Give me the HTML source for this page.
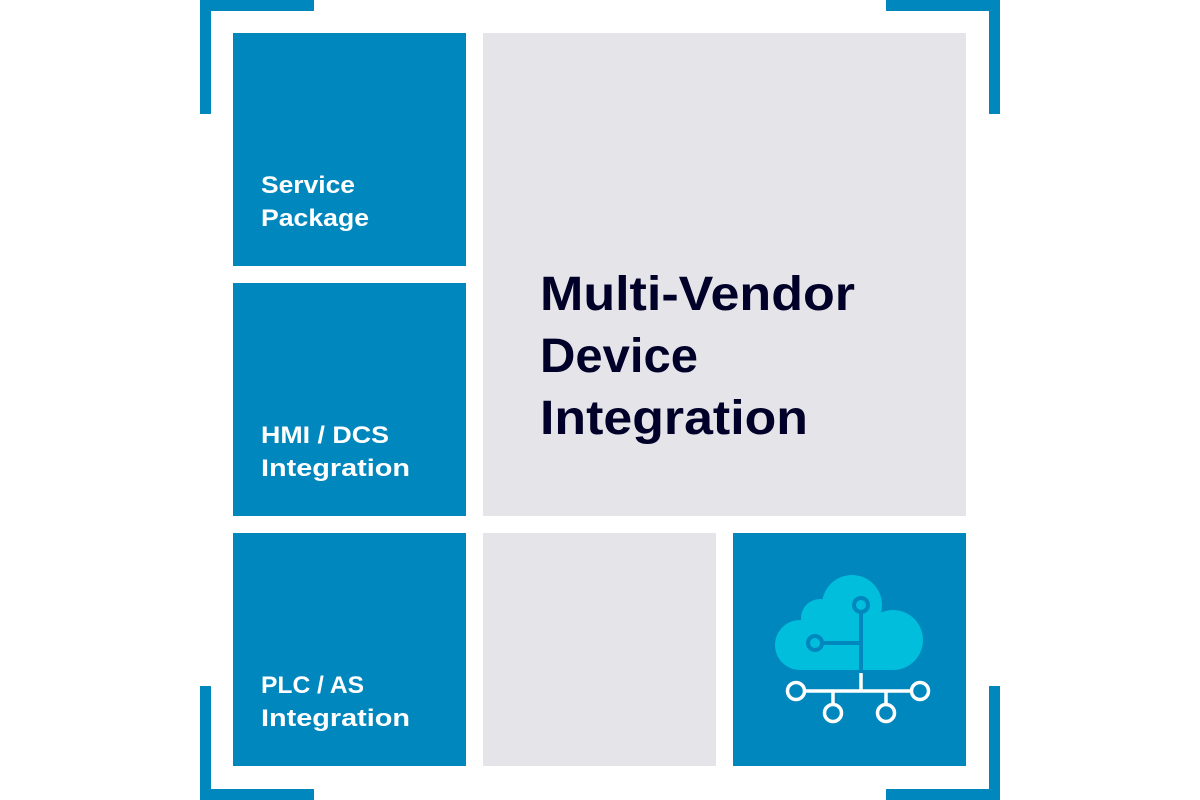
<!DOCTYPE html>
<html><head><meta charset="utf-8"><style>html,body{margin:0;padding:0;background:#fff;}svg{display:block}</style></head>
<body>
<svg width="1200" height="800" viewBox="0 0 1200 800" xmlns="http://www.w3.org/2000/svg" font-family="Liberation Sans, sans-serif">
<rect width="1200" height="800" fill="#fff"/>
<g fill="#0087bd">
<rect x="200" y="0" width="114" height="11"/><rect x="200" y="0" width="11" height="114"/>
<rect x="886" y="0" width="114" height="11"/><rect x="989" y="0" width="11" height="114"/>
<rect x="200" y="789" width="114" height="11"/><rect x="200" y="686" width="11" height="114"/>
<rect x="886" y="789" width="114" height="11"/><rect x="989" y="686" width="11" height="114"/>
<rect x="233" y="33" width="233" height="233"/>
<rect x="233" y="283" width="233" height="233"/>
<rect x="233" y="533" width="233" height="233"/>
<rect x="733" y="533" width="233" height="233"/>
</g>
<g fill="#e5e4e9">
<rect x="483" y="33" width="483" height="483"/>
<rect x="483" y="533" width="233" height="233"/>
</g>
<g fill="#fff" font-size="24" font-weight="bold">
<text x="261" y="193" textLength="94" lengthAdjust="spacingAndGlyphs">Service</text>
<text x="261" y="226" textLength="108" lengthAdjust="spacingAndGlyphs">Package</text>
<text x="261" y="443" textLength="128" lengthAdjust="spacingAndGlyphs">HMI / DCS</text>
<text x="261" y="476" textLength="149" lengthAdjust="spacingAndGlyphs">Integration</text>
<text x="261" y="693" textLength="103" lengthAdjust="spacingAndGlyphs">PLC / AS</text>
<text x="261" y="726" textLength="149" lengthAdjust="spacingAndGlyphs">Integration</text>
</g>
<g fill="#000028" font-size="48" font-weight="bold">
<text x="540" y="310" textLength="315" lengthAdjust="spacingAndGlyphs">Multi-Vendor</text>
<text x="540" y="372" textLength="158" lengthAdjust="spacingAndGlyphs">Device</text>
<text x="540" y="434" textLength="268" lengthAdjust="spacingAndGlyphs">Integration</text>
</g>
<!-- cloud -->
<g fill="#00bedc">
<circle cx="820" cy="618" r="19"/>
<circle cx="852" cy="605" r="30"/>
<circle cx="893" cy="640" r="30"/>
<circle cx="800" cy="645" r="25"/>
<rect x="800" y="625" width="93" height="45"/>
</g>
<g fill="none" stroke="#0087bd" stroke-width="4">
<circle cx="861" cy="605" r="7"/>
<circle cx="815" cy="643" r="7"/>
<line x1="861" y1="612" x2="861" y2="672"/>
<line x1="822" y1="643" x2="861" y2="643"/>
</g>
<g fill="none" stroke="#fff" stroke-width="3.5">
<line x1="861" y1="673" x2="861" y2="691"/>
<line x1="805" y1="691" x2="911" y2="691"/>
<line x1="833" y1="691" x2="833" y2="704"/>
<line x1="886" y1="691" x2="886" y2="704"/>
<circle cx="796" cy="691" r="8.5"/>
<circle cx="920" cy="691" r="8.5"/>
<circle cx="833" cy="713" r="8.5"/>
<circle cx="886" cy="713" r="8.5"/>
</g>
</svg>
</body></html>
